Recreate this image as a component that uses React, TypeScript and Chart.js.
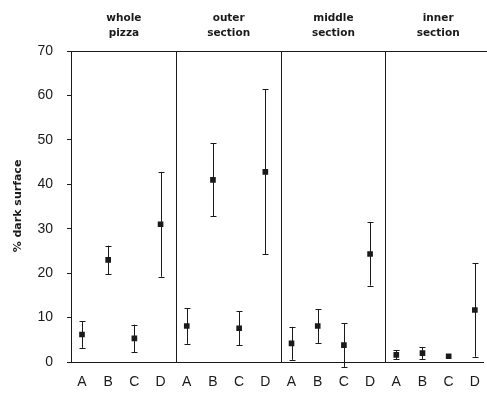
import React, { useEffect, useRef } from "react";
import { Chart, registerables } from "chart.js";

Chart.register(...registerables);

const panels = ["whole\npizza", "outer\nsection", "middle\nsection", "inner\nsection"];
const categories = ["A", "B", "C", "D"];
const wholeMean = [6.2, 23.0, 5.3, 31.0];
const wholeErr = [3.0, 3.2, 3.1, 11.8];
const outerMean = [8.1, 41.0, 7.6, 42.8];
const outerErr = [4.0, 8.2, 3.8, 18.6];
const middleMean = [4.2, 8.1, 3.8, 24.3];
const middleErr = [3.7, 3.8, 4.9, 7.1];
const innerMean = [1.6, 2.0, 1.3, 11.7];
const innerErr = [1.0, 1.3, 0.3, 10.5];
const yTicks = [0, 10, 20, 30, 40, 50, 60, 70];

const means = [wholeMean, outerMean, middleMean, innerMean];
const errs = [wholeErr, outerErr, middleErr, innerErr];

const INK = "#1a1a1a";
const FONT = "'Liberation Sans', Arial, sans-serif";
const BOLD = "'DejaVu Sans', Verdana, sans-serif";

export default function App() {
  const ref = useRef<HTMLCanvasElement>(null);
  useEffect(() => {
    const points: { x: number; y: number; e: number }[] = [];
    means.forEach((arr, p) =>
      arr.forEach((v, i) => points.push({ x: p * 4 + i, y: v, e: errs[p][i] }))
    );
    const xTickVals = points.map((pt) => pt.x);

    const overlay = {
      id: "overlay",
      afterDatasetsDraw(chart: any) {
        const ctx = chart.ctx;
        const xs = chart.scales.x;
        const ys = chart.scales.y;
        const area = chart.chartArea;
        ctx.save();
        ctx.strokeStyle = INK;
        ctx.lineWidth = 1;
        // error bars
        points.forEach((pt) => {
          if (pt.e <= 0.4) return;
          const px = Math.round(xs.getPixelForValue(pt.x)) + 0.5;
          const top = ys.getPixelForValue(pt.y + pt.e);
          const bot = ys.getPixelForValue(pt.y - pt.e);
          ctx.beginPath();
          ctx.moveTo(px, top);
          ctx.lineTo(px, bot);
          ctx.moveTo(px - 3, Math.round(top) + 0.5);
          ctx.lineTo(px + 3, Math.round(top) + 0.5);
          ctx.moveTo(px - 3, Math.round(bot) + 0.5);
          ctx.lineTo(px + 3, Math.round(bot) + 0.5);
          ctx.stroke();
        });
        // dividers
        [3.58, 7.58, 11.58].forEach((d) => {
          const px = Math.round(xs.getPixelForValue(d)) + 0.5;
          ctx.beginPath();
          ctx.moveTo(px, area.top);
          ctx.lineTo(px, area.bottom);
          ctx.stroke();
        });
        // top border
        ctx.beginPath();
        ctx.moveTo(area.left, Math.round(area.top) + 0.5);
        ctx.lineTo(area.right + 6, Math.round(area.top) + 0.5);
        ctx.stroke();
        // panel titles
        ctx.fillStyle = INK;
        ctx.font = `bold 10.5px ${BOLD}`;
        ctx.textAlign = "center";
        ctx.textBaseline = "middle";
        panels.forEach((t, p) => {
          const cx = xs.getPixelForValue(p * 4 + 1.6);
          t.split("\n").forEach((line, k) => ctx.fillText(line, cx, 18 + k * 15));
        });
        // y title
        ctx.save();
        ctx.translate(18, 206);
        ctx.rotate(-Math.PI / 2);
        ctx.font = `bold 11px ${BOLD}`;
        ctx.fillText("% dark surface", 0, 0);
        ctx.restore();
        ctx.restore();
      },
    };

    const chart = new Chart(ref.current!, {
      type: "scatter",
      data: {
        datasets: [
          {
            data: points.map((p) => ({ x: p.x, y: p.y })),
            pointStyle: "rect",
            pointRadius: 4,
            backgroundColor: INK,
            borderColor: INK,
            borderWidth: 0,
          },
        ],
      },
      options: {
        animation: false,
        responsive: false,
        events: [],
        layout: { padding: { top: 51, left: 0, right: 0, bottom: 0 } },
        plugins: { legend: { display: false }, tooltip: { enabled: false } },
        scales: {
          x: {
            type: "linear",
            min: -0.42,
            max: 15.34,
            afterFit: (s: any) => {
              s.height = 32;
            },
            afterBuildTicks: (s: any) => {
              s.ticks = xTickVals.map((v) => ({ value: v }));
            },
            ticks: {
              autoSkip: false,
              maxRotation: 0,
              padding: 12,
              color: INK,
              font: { family: FONT, size: 14 },
              callback: (v: any) => categories[Math.round(Number(v)) % 4],
            },
            grid: { display: true, drawOnChartArea: false, drawTicks: false },
            border: { display: true, color: INK, width: 1 },
          },
          y: {
            min: 0,
            max: 70,
            afterFit: (s: any) => {
              s.width = 71;
            },
            afterBuildTicks: (s: any) => {
              s.ticks = yTicks.map((v) => ({ value: v }));
            },
            ticks: {
              padding: 14,
              color: INK,
              font: { family: FONT, size: 14 },
            },
            grid: {
              drawOnChartArea: false,
              drawTicks: true,
              tickLength: 4,
              color: INK,
            },
            border: { display: true, color: INK, width: 1 },
          },
        },
      },
      plugins: [overlay],
    });
    return () => chart.destroy();
  }, []);

  return (
    <div style={{ position: "absolute", left: 0, top: 0, width: 487, height: 394, overflow: "hidden", background: "#fff" }}>
      <canvas ref={ref} width={492} height={394} style={{ width: 492, height: 394, display: "block" }} />
    </div>
  );
}
